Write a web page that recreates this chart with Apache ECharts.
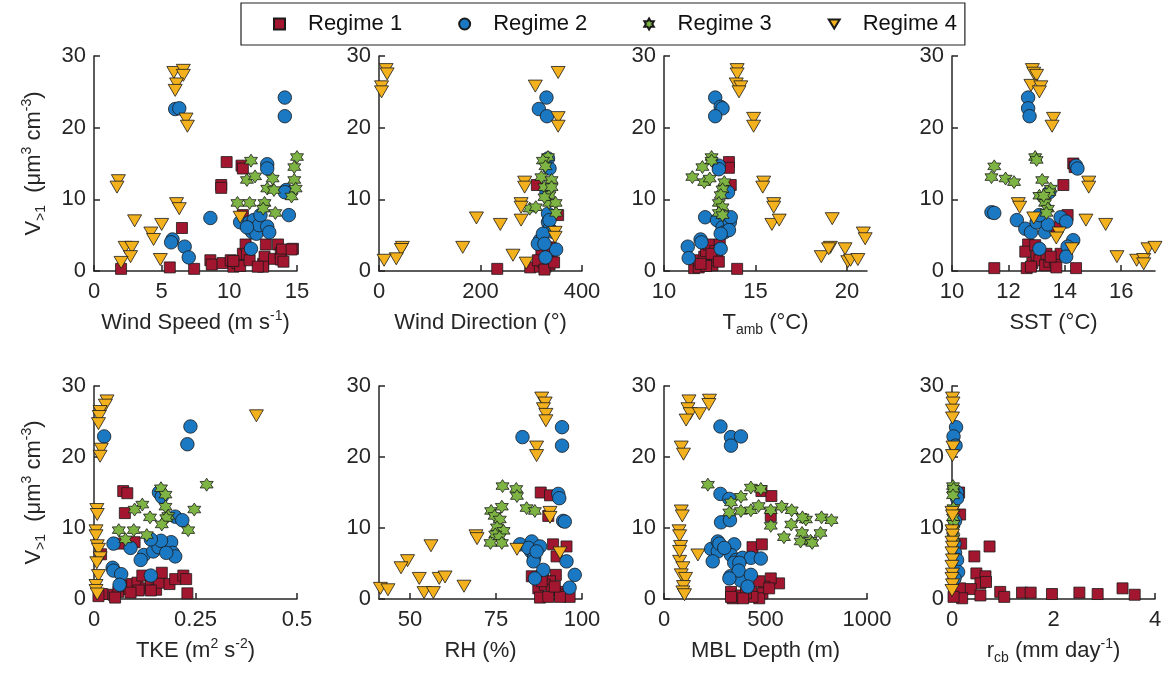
<!DOCTYPE html>
<html>
<head>
<meta charset="utf-8">
<script src="https://cdn.jsdelivr.net/npm/echarts@6/dist/echarts.min.js"></script>
<style>
  html, body { margin: 0; padding: 0; background: #fff; }
  #chart { width: 1171px; height: 679px; }
</style>
</head>
<body>
<div id="chart"></div>
<script>
// Regime names
var regimes = ['Regime 1', 'Regime 2', 'Regime 3', 'Regime 4'];

// Tick labels per panel
var wsTicks = [0, 5, 10, 15];
var wdTicks = [0, 200, 400];
var taTicks = [10, 15, 20];
var sstTicks = [10, 12, 14, 16];
var tkeTicks = [0, 0.25, 0.5];
var rhTicks = [50, 75, 100];
var mblTicks = [0, 500, 1000];
var rcbTicks = [0, 2, 4];
var vTicks = [0, 10, 20, 30];

// Wind speed (m/s) vs V>1
var wsR1 = [[9.8,15.2],[10.9,14.7],[11.0,14.3],[9.4,12.0],[9.4,11.6],[6.5,6.0],[11.0,7.8],[2.0,0.3],[5.6,0.5],[7.4,0.3],[8.6,1.5],[8.7,0.9],[9.5,1.1],[10.1,1.5],[10.3,0.6],[10.6,1.1],[10.8,0.7],[11.0,2.4],[11.2,3.7],[11.3,2.4],[11.5,1.5],[12.5,1.0],[12.6,2.0],[12.7,3.7],[12.5,0.6],[13.3,1.7],[13.6,3.7],[13.8,2.5],[13.9,3.0],[13.8,1.6],[14.7,3.1],[14.6,3.0],[14.0,1.3],[12.1,0.6],[10.3,1.4]];
var wsR2 = [[14.1,24.2],[14.1,21.6],[6.0,22.6],[6.3,22.7],[12.8,14.9],[12.8,14.3],[14.2,11.3],[14.4,10.9],[14.1,11.0],[14.4,7.8],[8.6,7.4],[10.8,6.8],[11.5,6.8],[11.8,7.1],[11.5,5.9],[11.7,5.4],[12.0,5.2],[12.2,6.4],[12.8,6.2],[12.95,5.4],[12.3,7.8],[11.3,6.1],[5.8,4.4],[5.7,4.0],[6.7,3.4],[7.0,1.9],[11.6,3.1]];
var wsR3 = [[15.0,15.9],[11.6,15.4],[14.8,14.5],[14.8,12.7],[11.3,12.7],[11.9,13.2],[13.2,12.9],[12.8,11.5],[13.3,11.3],[14.6,10.4],[10.6,9.5],[11.5,9.5],[12.6,9.5],[12.5,8.7],[13.4,8.1],[14.9,11.5]];
var wsR4 = [[5.9,27.7],[6.6,28.0],[6.6,27.3],[6.1,26.1],[6.0,25.2],[6.8,21.2],[6.9,20.2],[1.8,12.6],[1.7,11.7],[6.1,9.4],[6.3,8.7],[3.0,7.0],[4.2,5.3],[4.4,4.4],[5.0,6.5],[2.3,3.3],[2.8,3.3],[2.7,2.0],[2.0,1.2],[4.9,1.6],[10.8,7.5]];

// Wind direction (deg)
var wdR1 = [[233,0.3],[298,0.5],[311,12.0],[353,7.8],[317,0.6],[323,1.3],[328,0.6],[336,0.9],[329,2.2],[320,2.4],[340,1.6],[313,1.5],[333,2.8],[326,0.2],[338,3.3],[345,1.2]];
var wdR2 = [[330,24.2],[315,22.6],[331,21.6],[333,15.7],[336,14.3],[330,11.0],[333,8.0],[333,6.8],[336,5.9],[341,5.5],[317,4.3],[313,3.8],[349,3.0],[328,1.9],[323,5.2],[326,3.8],[336,7.1]];
var wdR3 = [[333,15.9],[323,15.4],[328,14.6],[320,13.1],[340,12.7],[326,11.7],[336,10.6],[335,9.5],[348,9.5],[297,8.7],[309,8.9],[349,8.1],[326,10.3],[340,11.7]];
var wdR4 = [[14,28.1],[16,27.5],[5,25.7],[5,25.0],[308,25.8],[353,27.7],[353,21.4],[353,20.2],[287,12.4],[287,11.7],[280,9.4],[280,8.9],[280,7.1],[192,7.4],[239,6.5],[165,3.3],[46,3.3],[44,3.0],[34,1.7],[10,1.5],[264,2.2],[290,1.1],[347,5.4],[347,4.7]];

// Ambient temperature (C)
var taR1 = [[13.55,15.2],[13.55,14.4],[13.65,12.0],[14.0,0.3],[11.65,0.4],[11.9,0.5],[11.9,1.5],[12.2,2.0],[12.3,2.8],[12.45,3.7],[12.65,0.8],[12.85,1.5],[12.8,2.8],[13.05,3.7],[12.3,0.7],[12.9,2.0],[12.6,2.4],[13.0,1.3],[12.0,1.0]];
var taR2 = [[12.8,24.2],[13.1,22.9],[13.2,22.7],[12.8,21.6],[13.0,14.7],[13.0,14.2],[13.5,11.0],[12.25,7.5],[12.9,7.1],[13.2,6.1],[13.3,5.4],[13.6,6.8],[13.65,7.5],[13.55,5.7],[13.1,5.2],[11.3,3.4],[11.35,1.8],[12.0,4.4],[12.05,4.0],[13.1,3.1]];
var taR3 = [[12.6,15.9],[12.6,15.4],[12.1,14.5],[11.55,13.1],[12.2,12.4],[12.5,12.9],[13.3,12.4],[13.2,11.4],[13.1,10.6],[13.0,9.5],[13.2,8.9],[13.0,8.1],[13.2,7.8]];
var taR4 = [[14.0,28.1],[14.0,27.5],[13.95,26.1],[14.2,25.7],[14.1,25.0],[14.9,21.3],[14.9,20.2],[15.45,12.4],[15.4,11.7],[16.0,9.4],[16.0,8.9],[15.9,6.5],[16.3,7.1],[19.2,7.3],[18.6,2.0],[19.1,3.3],[19.0,3.1],[19.9,3.1],[20.05,1.3],[20.2,1.5],[20.6,1.6],[20.9,5.3],[21.0,4.5]];

// Sea surface temperature (C)
var sstR1 = [[14.3,15.0],[14.35,14.5],[13.95,12.0],[14.1,7.8],[11.5,0.4],[14.4,0.4],[13.7,6.1],[12.65,0.4],[12.7,3.7],[12.6,2.7],[12.85,1.1],[13.0,2.2],[13.1,1.5],[13.3,0.8],[13.45,1.3],[13.65,1.5],[13.7,0.5],[12.95,3.6],[13.35,2.4],[13.85,2.4],[13.5,2.0],[12.8,0.6]];
var sstR2 = [[12.7,24.2],[12.7,22.7],[12.75,21.6],[14.4,14.7],[14.45,14.3],[13.45,11.0],[11.4,8.2],[11.5,8.1],[12.3,7.1],[12.6,5.9],[12.8,5.4],[13.0,6.8],[13.3,5.4],[13.4,6.5],[13.85,7.5],[14.05,6.9],[13.1,7.8],[14.3,4.3],[14.1,3.4],[14.05,2.0],[13.1,3.1]];
var sstR3 = [[12.95,15.9],[13.0,15.5],[11.5,14.6],[11.4,13.1],[11.9,12.9],[12.2,12.4],[13.2,12.7],[13.5,11.5],[13.45,11.0],[13.1,10.5],[13.3,9.5],[13.4,8.7],[13.35,8.1],[13.25,10.5]];
var sstR4 = [[12.85,28.1],[12.9,27.6],[13.0,27.3],[12.8,25.9],[13.15,25.7],[13.1,25.0],[13.6,21.3],[13.55,20.2],[14.85,12.4],[14.85,11.7],[12.35,9.4],[12.4,8.9],[12.9,7.4],[13.8,5.3],[13.7,4.6],[14.75,7.1],[15.45,6.5],[14.25,3.1],[15.85,2.0],[16.55,1.5],[16.8,1.6],[16.8,1.0],[16.95,3.1],[17.2,3.3]];

// Turbulent kinetic energy (m2 s-2)
var tkeR1 = [[0.072,15.2],[0.082,14.9],[0.076,12.1],[0.0175,6.3],[0.1,8.0],[0.065,7.8],[0.02,0.7],[0.048,0.6],[0.06,1.0],[0.073,1.9],[0.086,1.4],[0.094,2.1],[0.107,2.3],[0.119,3.3],[0.128,1.5],[0.14,1.9],[0.153,1.3],[0.16,2.3],[0.167,3.7],[0.186,2.1],[0.2,2.8],[0.22,3.3],[0.227,2.8],[0.23,0.8],[0.11,1.2],[0.09,0.9],[0.052,0.2],[0.14,1.2],[0.011,0.4]];
var tkeR2 = [[0.2375,24.3],[0.23,21.8],[0.025,22.9],[0.16,15.0],[0.167,14.4],[0.2,11.6],[0.2175,11.1],[0.048,7.8],[0.09,7.2],[0.123,6.2],[0.146,6.7],[0.159,7.3],[0.19,8.0],[0.194,6.5],[0.2,6.0],[0.165,8.2],[0.14,8.4],[0.178,6.5],[0.115,5.5],[0.046,4.4],[0.048,4.0],[0.067,3.5],[0.063,2.0],[0.14,3.3]];
var tkeR3 = [[0.165,15.6],[0.176,14.7],[0.2775,16.1],[0.176,13.0],[0.119,13.3],[0.1,12.6],[0.138,11.5],[0.183,11.7],[0.178,11.4],[0.167,10.5],[0.247,12.6],[0.232,9.7],[0.061,9.7],[0.098,9.7],[0.13,9.0],[0.0775,8.4]];
var tkeR4 = [[0.032,27.9],[0.028,27.3],[0.015,26.4],[0.013,25.7],[0.011,24.7],[0.018,21.1],[0.015,20.1],[0.007,12.6],[0.008,11.9],[0.005,9.6],[0.005,8.9],[0.008,7.5],[0.011,7.0],[0.015,5.8],[0.007,5.1],[0.011,3.3],[0.005,1.9],[0.005,1.2],[0.008,0.7],[0.4,25.8]];

// Relative humidity (%)
var rhR1 = [[88.0,15.0],[90.7,14.6],[90.2,11.7],[91.6,7.7],[95.5,7.4],[92.6,6.0],[85.4,3.2],[88.75,2.9],[92.4,3.4],[90.7,2.5],[87.3,1.5],[89.2,2.0],[91.2,1.3],[93.6,1.0],[95.0,0.6],[96.4,0.3],[87.8,0.2],[90.2,0.3],[93.6,0.3],[92.1,1.75],[88.3,2.5]];
var rhR2 = [[82.7,22.8],[94.2,24.2],[94.2,21.6],[93.1,14.8],[93.4,14.2],[94.5,11.0],[95.0,10.9],[82.0,7.7],[85.4,8.1],[85.2,6.7],[84.4,7.2],[86.1,5.8],[85.9,5.3],[87.8,7.4],[86.8,6.7],[95.5,5.3],[88.75,4.1],[86.3,2.9],[97.9,3.4],[96.4,1.6]];
var rhR3 = [[76.9,15.9],[80.9,15.5],[81.1,14.5],[73.6,12.4],[76.7,13.0],[74.6,11.7],[76.1,11.2],[75.3,10.1],[77.2,9.6],[74.8,9.1],[76.0,8.7],[76.7,7.9],[73.4,7.9],[83.9,12.8],[86.3,12.4]];
var rhR4 = [[88.3,28.3],[89.3,27.6],[88.8,26.8],[89.5,26.0],[89.5,25.1],[86.8,21.4],[86.8,20.2],[90.7,12.2],[90.7,11.5],[69.2,8.9],[69.5,8.5],[81.1,7.0],[93.6,6.5],[56.1,7.5],[49.3,5.4],[47.4,4.4],[52.7,2.9],[58.5,2.9],[60.2,3.1],[54.1,0.9],[56.8,0.9],[65.7,1.8],[41.4,1.5],[43.6,1.3]];

// Marine boundary layer depth (m)
var mblR1 = [[480,15.2],[529,14.5],[526,11.7],[436,7.3],[482,7.7],[567,2.2],[526,2.9],[493,1.75],[428,1.5],[485,0.8],[469,0.1],[436,0.3],[330,1.0],[338,0.1],[379,0.5],[404,0.8],[469,2.5],[518,1.5],[330,0.3],[390,0.1]];
var mblR2 = [[278,24.3],[330,22.8],[379,22.9],[330,21.6],[278,14.8],[322,14.1],[281,10.8],[325,11.1],[232,7.05],[265,8.1],[265,6.7],[240,5.3],[346,7.7],[330,6.2],[355,5.5],[387,5.8],[428,5.8],[477,5.7],[273,7.8],[297,7.2],[346,5.1],[371,5.1],[327,3.2],[379,2.6],[368,4.0],[428,3.4],[412,1.75],[322,2.9]];
var mblR3 = [[216,16.1],[379,14.4],[428,15.7],[477,15.5],[330,13.6],[322,12.2],[379,12.4],[428,12.5],[466,13.1],[526,12.5],[580,13.0],[629,12.5],[526,10.3],[627,10.5],[591,8.7],[680,9.3],[673,8.1],[699,11.2],[682,11.5],[722,8.2],[730,7.9],[771,9.3],[776,11.5],[825,11.1]];
var mblR4 = [[123,27.9],[118,26.8],[129,26.1],[109,25.2],[175,26.1],[224,28.0],[221,27.4],[85,21.4],[96,20.4],[85,12.4],[90,11.7],[74,9.6],[77,8.9],[82,7.4],[167,6.2],[77,5.3],[93,4.4],[85,3.4],[106,2.9],[96,1.75],[93,1.0],[101,0.6],[77,6.7]];

// Cloud-base rain rate (mm/day)
var rcbR1 = [[0.14,15.0],[0.16,11.9],[0.18,7.8],[0.74,7.4],[0.44,6.0],[0.48,3.6],[0.66,3.2],[0.56,2.2],[0.67,2.4],[0.16,1.5],[0.37,1.4],[0.56,0.5],[0.2,0.1],[0.95,1.0],[1.03,0.3],[1.38,0.9],[1.55,0.9],[1.97,0.7],[2.51,0.9],[2.87,0.7],[3.36,1.5],[3.6,0.6],[0.03,0.3]];
var rcbR2 = [[0.08,24.2],[0.03,22.9],[0.07,21.6],[0.1,15.0],[0.1,14.2],[0.06,11.0],[0.05,7.8],[0.06,6.5],[0.1,5.5],[0.12,3.8],[0.05,2.9]];
var rcbR3 = [[0.02,15.9],[0.03,15.5],[0.02,14.6],[0.03,12.8],[0.02,11.5],[0.03,10.6],[0.02,9.7],[0.03,8.6]];
var rcbR4 = [[0.01,28.3],[0.02,27.6],[0.01,26.6],[0.01,25.5],[0.02,21.4],[0.01,20.2],[0.0,12.2],[0.01,11.7],[0.0,9.6],[0.01,9.0],[0.0,8.0],[0.01,7.3],[0.0,6.5],[0.01,5.5],[0.0,4.6],[0.01,3.5],[0.0,2.9],[0.01,2.0],[0.0,1.2]];

(function() {
  var ink = '#262626';
  var colors = ['#A3162F', '#1B78C2', '#7DB443', '#F3B11E'];

  // hexagram marker
  var hex = [];
  for (var k = 0; k < 12; k++) {
    var r = k % 2 === 0 ? 10 : 5.77;
    var a = Math.PI / 2 + k * Math.PI / 6;
    hex.push((k === 0 ? 'M' : 'L') + (10 + r * Math.cos(a)).toFixed(2) + ',' + (10 - r * Math.sin(a)).toFixed(2));
  }
  var symbols = ['rect', 'circle', 'path://' + hex.join(' ') + ' Z', 'path://M0,0 L12,0 L6,10 Z'];
  var sizes = [11, 13.5, [13, 13], [14, 12]];

  var rt = {
    t: { fontSize: 22, lineHeight: 28, color: ink, fontFamily: 'Liberation Sans' },
    sup: { fontSize: 14, lineHeight: 14, verticalAlign: 'top', color: ink, fontFamily: 'Liberation Sans' },
    sub: { fontSize: 14, lineHeight: 14, verticalAlign: 'bottom', color: ink, fontFamily: 'Liberation Sans' }
  };

  var panels = [
    { name: '{t|Wind Speed (m s}{sup|-1}{t|)}', min: 0, max: 15, ticks: wsTicks, data: [wsR1, wsR2, wsR3, wsR4] },
    { name: '{t|Wind Direction (°)}', min: 0, max: 400, ticks: wdTicks, data: [wdR1, wdR2, wdR3, wdR4] },
    { name: '{t|T}{sub|amb}{t| (°C)}', min: 10, max: 21.1, ticks: taTicks, data: [taR1, taR2, taR3, taR4] },
    { name: '{t|SST (°C)}', min: 10, max: 17.2, ticks: sstTicks, data: [sstR1, sstR2, sstR3, sstR4] },
    { name: '{t|TKE (m}{sup|2}{t| s}{sup|-2}{t|)}', min: 0, max: 0.5, ticks: tkeTicks, data: [tkeR1, tkeR2, tkeR3, tkeR4] },
    { name: '{t|RH (%)}', min: 41, max: 100, ticks: rhTicks, data: [rhR1, rhR2, rhR3, rhR4] },
    { name: '{t|MBL Depth (m)}', min: 0, max: 1000, ticks: mblTicks, data: [mblR1, mblR2, mblR3, mblR4] },
    { name: '{t|r}{sub|cb}{t| (mm day}{sup|-1}{t|)}', min: 0, max: 4, ticks: rcbTicks, data: [rcbR1, rcbR2, rcbR3, rcbR4] }
  ];

  var colLeft = [94, 379, 664, 952];
  var rowTop = [56, 386];
  var rowH = [215, 213];

  var grid = [], xAxis = [], yAxis = [], series = [];
  panels.forEach(function(p, i) {
    var row = Math.floor(i / 4), col = i % 4;
    grid.push({ left: colLeft[col], top: rowTop[row], width: 203, height: rowH[row] });
    xAxis.push({
      type: 'value', gridIndex: i, min: p.min, max: p.max,
      name: p.name, nameLocation: 'middle', nameGap: 38,
      nameTextStyle: { rich: rt },
      axisLine: { onZero: false, lineStyle: { color: ink, width: 1.5 } },
      axisTick: { inside: true, length: 6, customValues: p.ticks, lineStyle: { color: ink, width: 1.5 } },
      axisLabel: {
        customValues: p.ticks, color: ink, fontSize: 22, margin: 10, fontFamily: 'Liberation Sans',
        formatter: function(v) { return String(v); }
      },
      splitLine: { show: false }
    });
    yAxis.push({
      type: 'value', gridIndex: i, min: 0, max: 30, interval: 10,
      name: col === 0 ? '{t|V}{sub|>1}{t|  (μm}{sup|3}{t| cm}{sup|-3}{t|)}' : '',
      nameLocation: 'middle', nameRotate: 90, nameGap: 46,
      nameTextStyle: { rich: rt },
      axisLine: { onZero: false, lineStyle: { color: ink, width: 1.5 } },
      axisTick: { inside: true, length: 6, lineStyle: { color: ink, width: 1.5 } },
      axisLabel: { color: ink, fontSize: 22, margin: 8, fontFamily: 'Liberation Sans' },
      splitLine: { show: false }
    });
    p.data.forEach(function(d, j) {
      series.push({
        type: 'scatter', name: regimes[j], xAxisIndex: i, yAxisIndex: i,
        data: d, symbol: symbols[j], symbolSize: sizes[j], clip: false,
        itemStyle: { color: colors[j], borderColor: '#1a1a1a', borderWidth: 0.8, opacity: 1 }
      });
    });
  });

  var chart = echarts.init(document.getElementById('chart'), null, { renderer: 'canvas' });
  chart.setOption({
    animation: false,
    backgroundColor: '#fff',
    legend: {
      data: regimes, left: 241, top: 3, orient: 'horizontal',
      padding: [10, 8, 10, 32], itemGap: 56, itemWidth: 11, itemHeight: 11,
      borderColor: '#222', borderWidth: 1.2,
      textStyle: { fontSize: 22, color: '#111', fontFamily: 'Liberation Sans', padding: [0, 0, 0, 18] }
    },
    grid: grid, xAxis: xAxis, yAxis: yAxis, series: series
  });
  window.addEventListener('resize', function() { chart.resize(); });
})();
</script>
</body>
</html>
